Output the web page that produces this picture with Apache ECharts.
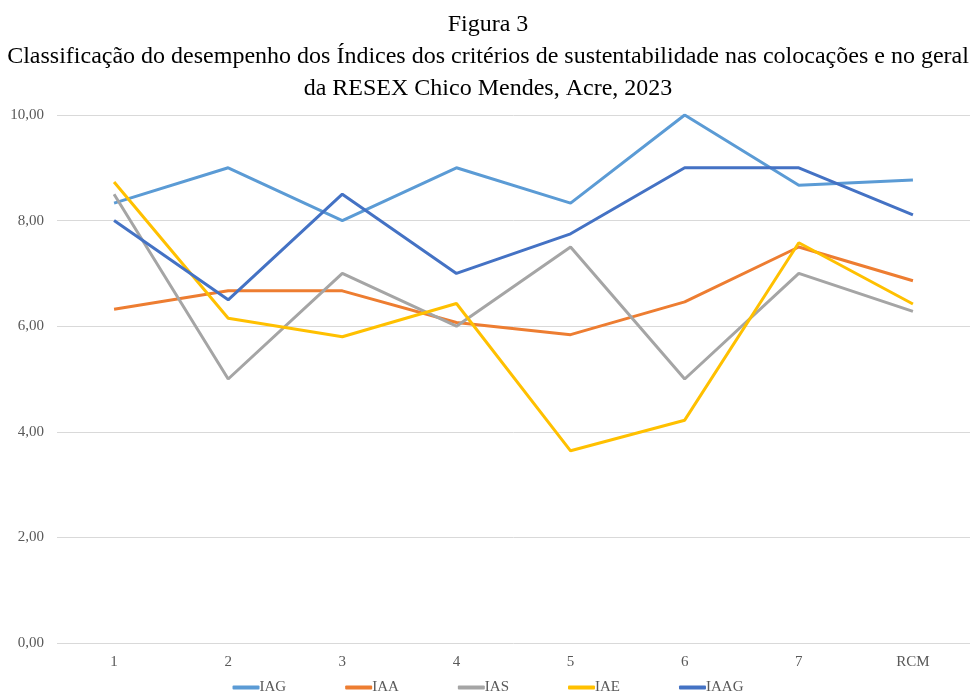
<!DOCTYPE html>
<html>
<head>
<meta charset="utf-8">
<script src="https://cdn.jsdelivr.net/npm/echarts@6/dist/echarts.min.js"></script>
<style>
  html, body { margin: 0; padding: 0; background: #fff; }
  #chart { width: 976px; height: 694px; }
</style>
</head>
<body>
<div id="chart"></div>
<script>
// categories (colocações + geral)
const categories = ['1', '2', '3', '4', '5', '6', '7', 'RCM']

// index values per series
const iag = [8.33, 9.0, 8.0, 9.0, 8.33, 10.0, 8.67, 8.77]
const iaa = [6.32, 6.67, 6.67, 6.07, 5.84, 6.46, 7.5, 6.86]
const ias = [8.5, 5.0, 7.0, 6.0, 7.5, 5.0, 7.0, 6.28]
const iae = [8.73, 6.15, 5.8, 6.43, 3.64, 4.22, 7.58, 6.42]
const iaag = [8.0, 6.5, 8.5, 7.0, 7.75, 9.0, 9.0, 8.11]

const seriesNames = ['IAG', 'IAA', 'IAS', 'IAE', 'IAAG']
const seriesData = [iag, iaa, ias, iae, iaag]
const colors = ['#5B9BD5', '#ED7D31', '#A5A5A5', '#FFC000', '#4472C4']

const serif = '"Liberation Serif", "DejaVu Serif", serif'

const myChart = echarts.init(document.getElementById('chart'))
const option = {
  color: colors,
  title: {
    text: 'Figura 3\nClassificação do desempenho dos Índices dos critérios de sustentabilidade nas colocações e no geral\nda RESEX Chico Mendes, Acre, 2023',
    left: 'center',
    top: 4,
    textStyle: {
      fontFamily: serif,
      fontSize: 24,
      fontWeight: 'normal',
      color: '#000',
      lineHeight: 32
    }
  },
  legend: {
    top: 675,
    left: 'center',
    itemWidth: 27,
    itemHeight: 4,
    itemGap: 59,
    icon: 'roundRect',
    textStyle: {
      fontFamily: serif,
      fontSize: 15,
      color: '#595959',
      padding: [0, 0, 0, -5]
    },
    data: seriesNames
  },
  grid: {
    left: 57,
    right: 6,
    top: 115,
    bottom: 51
  },
  xAxis: {
    type: 'category',
    data: categories,
    boundaryGap: true,
    axisLine: { show: false },
    axisTick: { show: false },
    axisLabel: {
      fontFamily: serif,
      fontSize: 15,
      color: '#595959',
      margin: 12
    }
  },
  yAxis: {
    type: 'value',
    min: 0,
    max: 10,
    interval: 2,
    axisLabel: {
      fontFamily: serif,
      fontSize: 15,
      color: '#595959',
      margin: 13,
      formatter: v => v.toFixed(2).replace('.', ',')
    },
    splitLine: { lineStyle: { color: '#D9D9D9', width: 1 } }
  },
  series: seriesNames.map((name, i) => ({
    name: name,
    type: 'line',
    data: seriesData[i],
    symbol: 'none',
    lineStyle: { width: 3 },
    emphasis: { disabled: true }
  }))
}
myChart.setOption(option, true)
</script>
</body>
</html>
